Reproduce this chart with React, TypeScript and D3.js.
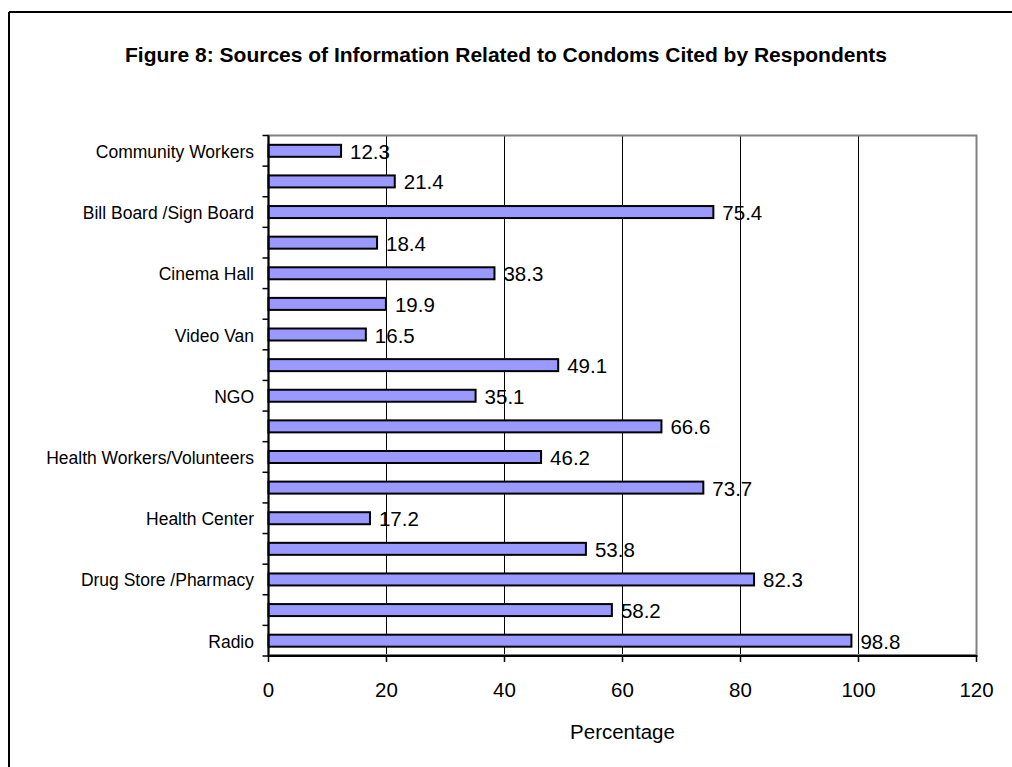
import React from "react";
import * as d3 from "d3";

const categories: string[] = [
  "Community Workers", "", "Bill Board /Sign Board", "", "Cinema Hall", "",
  "Video Van", "", "NGO", "", "Health Workers/Volunteers", "", "Health Center",
  "", "Drug Store /Pharmacy", "", "Radio",
];
const values: number[] = [
  12.3, 21.4, 75.4, 18.4, 38.3, 19.9, 16.5, 49.1, 35.1, 66.6, 46.2, 73.7, 17.2,
  53.8, 82.3, 58.2, 98.8,
];
const xTicks: number[] = [0, 20, 40, 60, 80, 100, 120];
const title = "Figure 8: Sources of Information Related to Condoms Cited by Respondents";
const xTitle = "Percentage";

const W = 1012;
const H = 767;
const PL = 268.5, PR = 976.5, PT = 135.5, PB = 656;
const FONT = "'Liberation Sans', Arial, Helvetica, sans-serif";

export default function App() {
  const x = d3.scaleLinear().domain([0, 120]).range([PL, PR]);
  const idx = categories.map((_, i) => String(i));
  const y = d3.scaleBand().domain(idx).range([PT, PB]);
  const barH = 12;
  const boundaries = d3.range(categories.length + 1).map((i) => PT + i * y.step());

  return (
    <svg width={W} height={H} style={{ position: "absolute", left: 0, top: 0, background: "#fff" }}>
      <rect x={0} y={0} width={W} height={H} fill="#fff" />
      {/* outer chart border */}
      <line x1={9} y1={12} x2={W} y2={12} stroke="#000" strokeWidth={2} />
      <line x1={9} y1={12} x2={9} y2={H} stroke="#000" strokeWidth={2} />
      <text x={506} y={62} textAnchor="middle" fontFamily={FONT} fontWeight="bold" fontSize={21} fill="#000">
        {title}
      </text>
      {/* gridlines */}
      {xTicks.slice(1, -1).map((t) => (
        <line key={"g" + t} x1={x(t)} x2={x(t)} y1={PT} y2={PB} stroke="#000" strokeWidth={1} />
      ))}
      {/* plot area border */}
      <rect x={PL} y={PT} width={PR - PL} height={PB - PT - 1} fill="none" stroke="#808080" strokeWidth={2} />
      {/* bars */}
      {values.map((v, i) => {
        const cy = (y(String(i)) as number) + y.bandwidth() / 2;
        return (
          <g key={"b" + i}>
            <rect x={x(0)} y={cy - barH / 2} width={x(v) - x(0)} height={barH} fill="#9999FF" stroke="#000" strokeWidth={2} />
            <text x={x(v) + 9} y={cy + 8} fontFamily={FONT} fontSize={20.5} fill="#000">
              {v.toFixed(1)}
            </text>
            {categories[i] && (
              <text x={254} y={cy + 7} textAnchor="end" fontFamily={FONT} fontSize={17.5} fill="#000">
                {categories[i]}
              </text>
            )}
          </g>
        );
      })}
      {/* axes */}
      <line x1={PL} x2={PL} y1={PT} y2={PB + 1} stroke="#000" strokeWidth={2} />
      <line x1={PL} x2={PR + 1} y1={PB} y2={PB} stroke="#000" strokeWidth={2} />
      {boundaries.map((b, i) => (
        <line key={"yt" + i} x1={PL - 6} x2={PL} y1={b} y2={b} stroke="#000" strokeWidth={1.5} />
      ))}
      {xTicks.map((t) => (
        <g key={"xt" + t}>
          <line x1={x(t)} x2={x(t)} y1={PB} y2={PB + 6} stroke="#000" strokeWidth={1.5} />
          <text x={x(t)} y={697} textAnchor="middle" fontFamily={FONT} fontSize={20.5} fill="#000">
            {t}
          </text>
        </g>
      ))}
      <text x={(PL + PR) / 2} y={739} textAnchor="middle" fontFamily={FONT} fontSize={20.5} fill="#000">
        {xTitle}
      </text>
    </svg>
  );
}
